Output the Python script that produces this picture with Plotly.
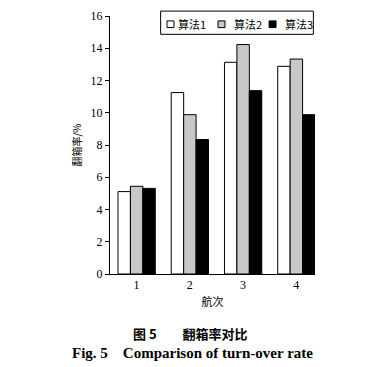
import plotly.graph_objects as go

voyages = [1, 2, 3, 4]
alg1 = [5.11, 11.25, 13.13, 12.88]
alg2 = [5.44, 9.88, 14.23, 13.33]
alg3 = [5.31, 8.34, 11.37, 9.88]
series_names = ["算法1", "算法2", "算法3"]
colors = ["#ffffff", "#c8c8c8", "#000000"]

serif = "Liberation Serif, Times New Roman, serif"
cjk = "Noto Sans CJK SC, sans-serif"

fig = go.Figure()
for name, vals, c in zip(series_names, [alg1, alg2, alg3], colors):
    fig.add_trace(go.Bar(x=voyages, y=vals, name=name,
                         marker=dict(color=c, line=dict(color="black", width=1))))

fig.update_layout(
    width=383, height=367,
    margin=dict(l=102, r=76, t=8, b=101, autoexpand=False),
    plot_bgcolor="white", paper_bgcolor="white",
    barmode="group", bargap=0.3, bargroupgap=0,
    font=dict(family=serif, size=11, color="black"),
    showlegend=False,
)
fig.update_xaxes(range=[0.5, 4.35], tickvals=voyages, ticktext=[str(v) for v in voyages],
                 showline=True, linecolor="black", linewidth=1, ticks="", showgrid=False,
                 zeroline=False, tickfont=dict(family=serif, size=12), automargin=False,
                 title=dict(text="航次", font=dict(family=cjk, size=11), standoff=6))
fig.update_yaxes(range=[0, 16], dtick=2, showline=True, linecolor="black", linewidth=1,
                 ticks="outside", ticklen=4, tickcolor="black", showgrid=False, zeroline=False,
                 tickfont=dict(family=serif, size=12), automargin=False, ticklabeloverflow="allow",
                 title=dict(text="翻箱率/%", font=dict(family=cjk, size=10), standoff=7))

# legend box drawn manually (native legend cannot be made this compact)
fig.add_shape(type="rect", xref="paper", yref="paper", x0=0.247, x1=0.992, y0=0.929, y1=1.019,
              line=dict(color="black", width=1), fillcolor="white", layer="above")
sq_x = [0.278, 0.527, 0.776]
txt_x = [0.322, 0.596, 0.846]
for name, c, sx, tx in zip(series_names, colors, sq_x, txt_x):
    fig.add_shape(type="rect", xref="paper", yref="paper", x0=sx, x1=sx + 0.034, y0=0.955, y1=0.981,
                  line=dict(color="black", width=1), fillcolor=c, layer="above")
    fig.add_annotation(text=name, xref="paper", yref="paper", x=tx, y=0.968, xanchor="left",
                       yanchor="middle", showarrow=False, font=dict(family=cjk, size=11))

fig.add_annotation(text="<b>图 5　　翻箱率对比</b>", xref="paper", yref="paper", x=0.395, y=-0.229,
                   showarrow=False, font=dict(family=cjk, size=13), xanchor="center", yanchor="middle")
fig.add_annotation(text="<b>Fig. 5　Comparison of turn-over rate</b>", xref="paper", yref="paper",
                   x=0.40, y=-0.306, showarrow=False, font=dict(family=serif, size=15),
                   xanchor="center", yanchor="middle")

fig.write_html("out.html")
